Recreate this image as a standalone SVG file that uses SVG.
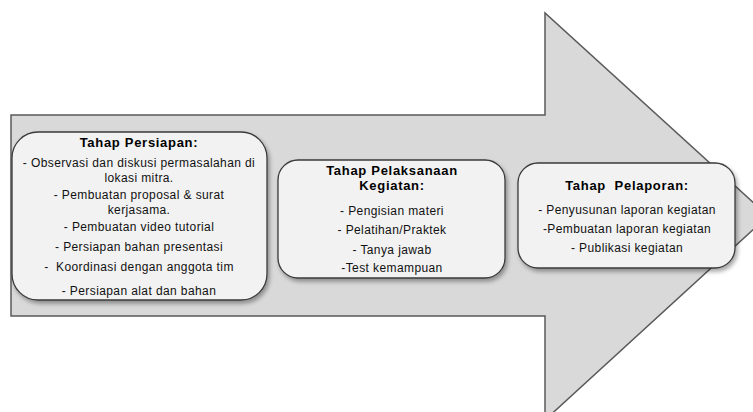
<svg xmlns="http://www.w3.org/2000/svg" width="753" height="412" viewBox="0 0 753 412">
<defs>
<style>
.arrow{fill:#d9d9d9;stroke:#5a5a5a;stroke-width:1.5}
.box{fill:#f2f2f2;stroke:#3a3a3a;stroke-width:1.3;filter:url(#sh)}
.t{font-family:"Liberation Sans",Arial,sans-serif;font-size:13px;letter-spacing:0.7px;font-weight:bold;fill:#000;text-anchor:middle}
.b{font-family:"Liberation Sans",Arial,sans-serif;font-size:12px;letter-spacing:0.4px;fill:#111;text-anchor:middle}
</style>
<filter id="sh" x="-10%" y="-10%" width="125%" height="130%">
<feDropShadow dx="2" dy="3" stdDeviation="2" flood-color="#000" flood-opacity="0.35"/>
</filter>
</defs>
<g id="connectors">
<polygon class="arrow" points="11,115 545,115 545,13 768,216 545,420 545,316 11,316"/>
</g>
<g id="node-persiapan">
<rect class="box" x="12" y="132" width="255" height="168" rx="26" ry="26"/>
<text class="t" x="139" y="147">Tahap Persiapan:</text>
<text class="b" x="139" y="167">- Observasi dan diskusi permasalahan di</text>
<text class="b" x="139" y="182">lokasi mitra.</text>
<text class="b" x="139" y="199">- Pembuatan proposal &amp; surat</text>
<text class="b" x="139" y="214">kerjasama.</text>
<text class="b" x="139" y="231">- Pembuatan video tutorial</text>
<text class="b" x="139" y="251">- Persiapan bahan presentasi</text>
<text class="b" x="139" y="271" xml:space="preserve">-  Koordinasi dengan anggota tim</text>
<text class="b" x="139" y="295">- Persiapan alat dan bahan</text>
</g>
<g id="node-pelaksanaan">
<rect class="box" x="278" y="160" width="227" height="118" rx="20" ry="20"/>
<text class="t" x="392" y="175">Tahap Pelaksanaan</text>
<text class="t" x="392" y="190">Kegiatan:</text>
<text class="b" x="392" y="215">- Pengisian materi</text>
<text class="b" x="392" y="234">- Pelatihan/Praktek</text>
<text class="b" x="392" y="254">- Tanya jawab</text>
<text class="b" x="392" y="272">-Test kemampuan</text>
</g>
<g id="node-pelaporan">
<rect class="box" x="518" y="163" width="217" height="105" rx="20" ry="20"/>
<text class="t" x="627" y="190" xml:space="preserve">Tahap  Pelaporan:</text>
<text class="b" x="627" y="214">- Penyusunan laporan kegiatan</text>
<text class="b" x="627" y="233">-Pembuatan laporan kegiatan</text>
<text class="b" x="627" y="252">- Publikasi kegiatan</text>
</g>
</svg>
